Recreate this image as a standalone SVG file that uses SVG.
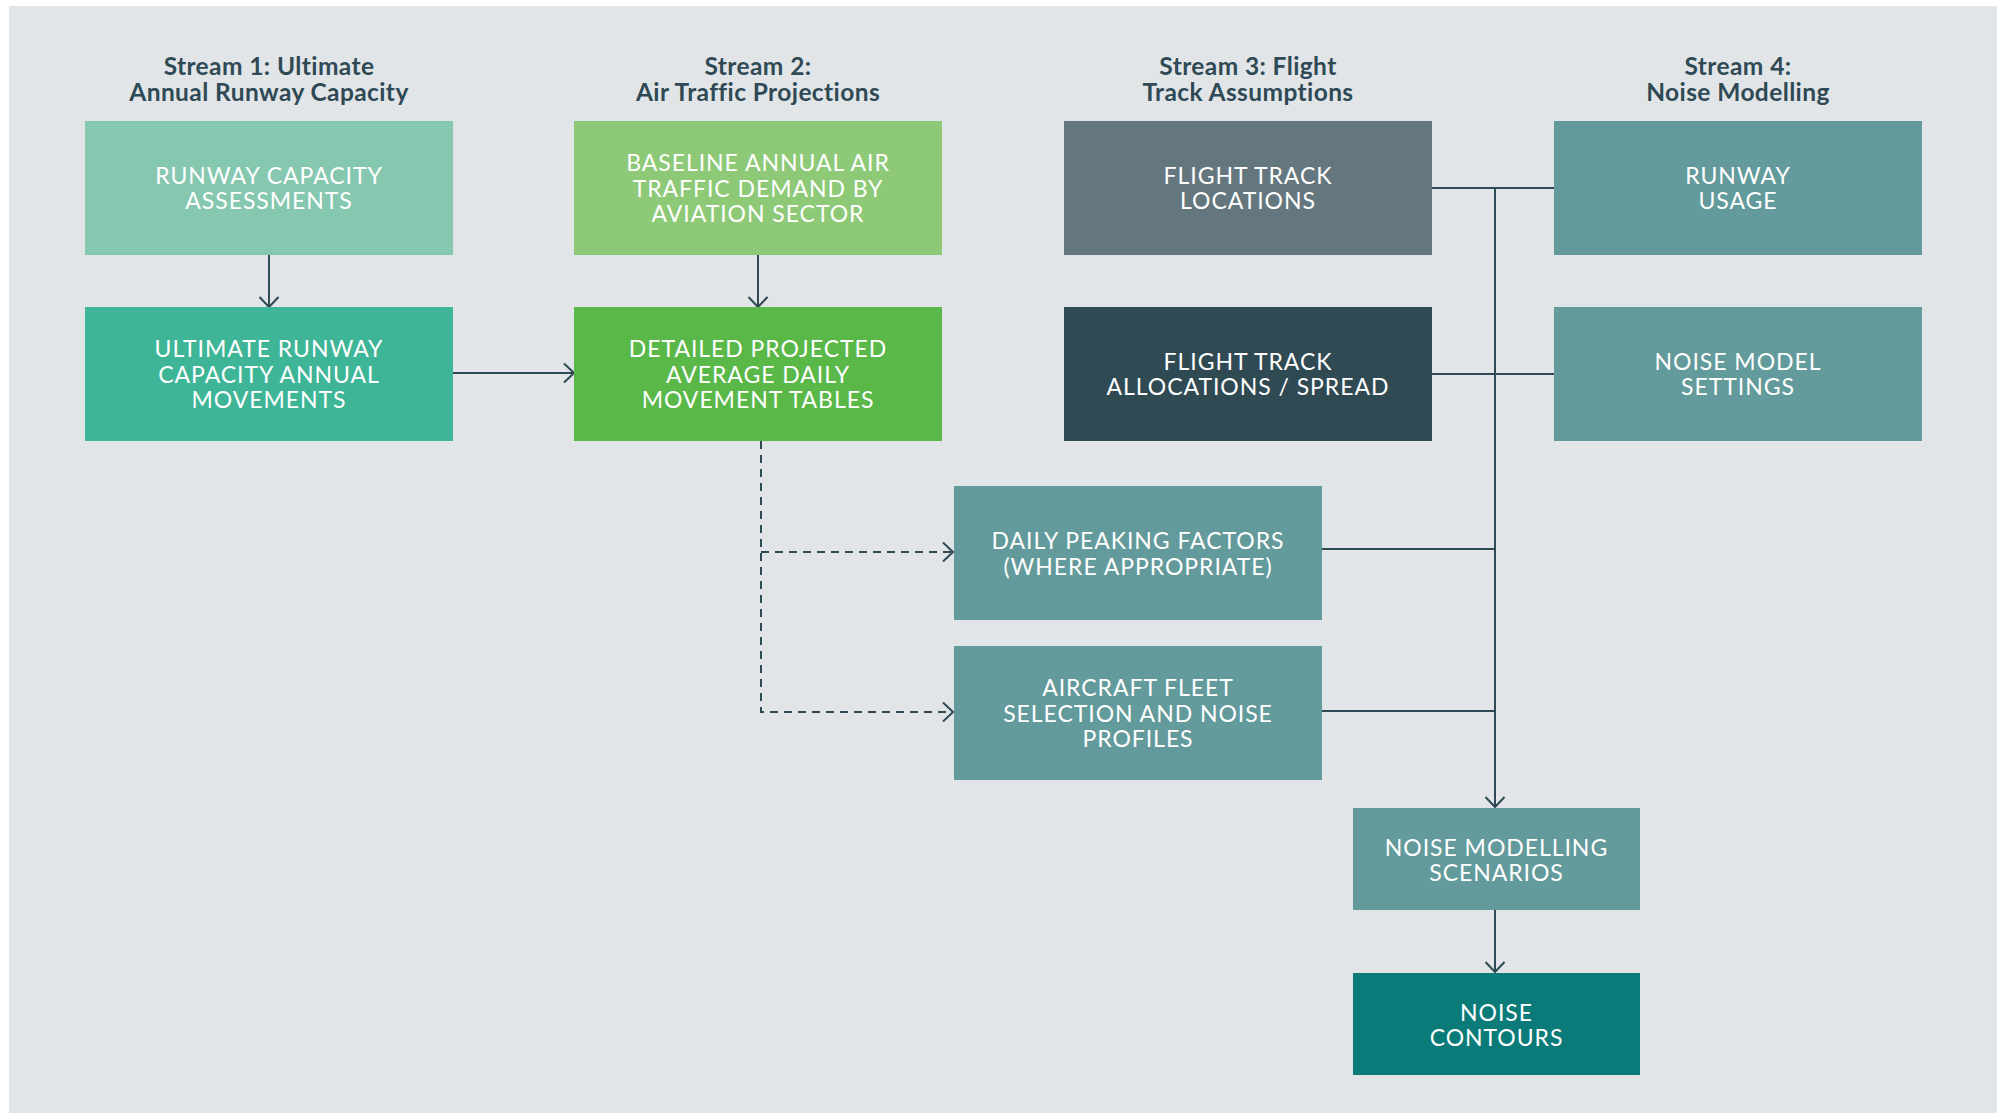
<svg xmlns="http://www.w3.org/2000/svg" width="2002" height="1113" viewBox="0 0 2002 1113">
<defs>
<style>
.hdr{font-family:Lato,"Open Sans","Liberation Sans",sans-serif;font-weight:700;font-size:24.5px;fill:#2f4a55;text-anchor:middle;letter-spacing:0.4px}
.lbl{font-family:Lato,"Open Sans","Liberation Sans",sans-serif;font-weight:400;font-size:23px;fill:#ffffff;text-anchor:middle;letter-spacing:0.95px}
.ln{fill:none;stroke:#2f4a55;stroke-width:2}
.dash{fill:none;stroke:#2f4a55;stroke-width:2;stroke-dasharray:8 6}
</style>
<marker id="arr" markerUnits="userSpaceOnUse" viewBox="-12 -11 14 22" refX="0" refY="0" markerWidth="14" markerHeight="22" orient="auto">
<path d="M-10,-9.5 L0,0 L-10,9.5" fill="none" stroke="#2f4a55" stroke-width="2"/>
</marker>
</defs>
<rect x="0" y="0" width="2002" height="1113" fill="#ffffff"/>
<rect x="9" y="6" width="1988" height="1107" fill="#e1e5e8"/>

<g id="headers">
<text class="hdr" x="269" y="75">Stream 1: Ultimate</text>
<text class="hdr" x="269" y="101">Annual Runway Capacity</text>
<text class="hdr" x="758" y="75">Stream 2:</text>
<text class="hdr" x="758" y="101">Air Traffic Projections</text>
<text class="hdr" x="1248" y="75">Stream 3: Flight</text>
<text class="hdr" x="1248" y="101">Track Assumptions</text>
<text class="hdr" x="1738" y="75">Stream 4:</text>
<text class="hdr" x="1738" y="101">Noise Modelling</text>
</g>

<g id="connectors">
<line class="ln" x1="269" y1="255" x2="269" y2="307" marker-end="url(#arr)"/>
<line class="ln" x1="758" y1="255" x2="758" y2="307" marker-end="url(#arr)"/>
<line class="ln" x1="453" y1="373" x2="574" y2="373" marker-end="url(#arr)"/>
<polyline class="dash" points="761,441 761,712 953,712" marker-end="url(#arr)"/>
<polyline class="dash" points="761,552 953,552" marker-end="url(#arr)"/>
<line class="ln" x1="1432" y1="188" x2="1554" y2="188"/>
<line class="ln" x1="1432" y1="374" x2="1554" y2="374"/>
<line class="ln" x1="1322" y1="549" x2="1495" y2="549"/>
<line class="ln" x1="1322" y1="711" x2="1495" y2="711"/>
<line class="ln" x1="1495" y1="188" x2="1495" y2="807" marker-end="url(#arr)"/>
<line class="ln" x1="1495" y1="910" x2="1495" y2="972" marker-end="url(#arr)"/>
</g>

<g id="runway-capacity-assessments">
<rect x="85" y="121" width="368" height="134" fill="#86c7b0"/>
<text class="lbl" x="269" y="183.5">RUNWAY CAPACITY</text>
<text class="lbl" x="269" y="209">ASSESSMENTS</text>
</g>
<g id="ultimate-runway-capacity">
<rect x="85" y="307" width="368" height="134" fill="#3fb597"/>
<text class="lbl" x="269" y="357">ULTIMATE RUNWAY</text>
<text class="lbl" x="269" y="382.7">CAPACITY ANNUAL</text>
<text class="lbl" x="269" y="408.4">MOVEMENTS</text>
</g>
<g id="baseline-demand">
<rect x="574" y="121" width="368" height="134" fill="#8dc977"/>
<text class="lbl" x="758" y="171">BASELINE ANNUAL AIR</text>
<text class="lbl" x="758" y="196.7">TRAFFIC DEMAND BY</text>
<text class="lbl" x="758" y="222.4">AVIATION SECTOR</text>
</g>
<g id="detailed-projected">
<rect x="574" y="307" width="368" height="134" fill="#5ab849"/>
<text class="lbl" x="758" y="357">DETAILED PROJECTED</text>
<text class="lbl" x="758" y="382.7">AVERAGE DAILY</text>
<text class="lbl" x="758" y="408.4">MOVEMENT TABLES</text>
</g>
<g id="flight-track-locations">
<rect x="1064" y="121" width="368" height="134" fill="#64777e"/>
<text class="lbl" x="1248" y="183.5">FLIGHT TRACK</text>
<text class="lbl" x="1248" y="209">LOCATIONS</text>
</g>
<g id="flight-track-allocations">
<rect x="1064" y="307" width="368" height="134" fill="#304a54"/>
<text class="lbl" x="1248" y="369.5">FLIGHT TRACK</text>
<text class="lbl" x="1248" y="395">ALLOCATIONS / SPREAD</text>
</g>
<g id="runway-usage">
<rect x="1554" y="121" width="368" height="134" fill="#639a9b"/>
<text class="lbl" x="1738" y="183.5">RUNWAY</text>
<text class="lbl" x="1738" y="209">USAGE</text>
</g>
<g id="noise-model-settings">
<rect x="1554" y="307" width="368" height="134" fill="#639a9b"/>
<text class="lbl" x="1738" y="369.5">NOISE MODEL</text>
<text class="lbl" x="1738" y="395">SETTINGS</text>
</g>
<g id="daily-peaking-factors">
<rect x="954" y="486" width="368" height="134" fill="#639a9b"/>
<text class="lbl" x="1138" y="549">DAILY PEAKING FACTORS</text>
<text class="lbl" x="1138" y="574.5">(WHERE APPROPRIATE)</text>
</g>
<g id="aircraft-fleet">
<rect x="954" y="646" width="368" height="134" fill="#639a9b"/>
<text class="lbl" x="1138" y="696">AIRCRAFT FLEET</text>
<text class="lbl" x="1138" y="721.7">SELECTION AND NOISE</text>
<text class="lbl" x="1138" y="747.4">PROFILES</text>
</g>
<g id="noise-modelling-scenarios">
<rect x="1353" y="808" width="287" height="102" fill="#639a9b"/>
<text class="lbl" x="1496.5" y="855.5">NOISE MODELLING</text>
<text class="lbl" x="1496.5" y="881">SCENARIOS</text>
</g>
<g id="noise-contours">
<rect x="1353" y="973" width="287" height="102" fill="#0a7b79"/>
<text class="lbl" x="1496.5" y="1020.5">NOISE</text>
<text class="lbl" x="1496.5" y="1046">CONTOURS</text>
</g>
</svg>
